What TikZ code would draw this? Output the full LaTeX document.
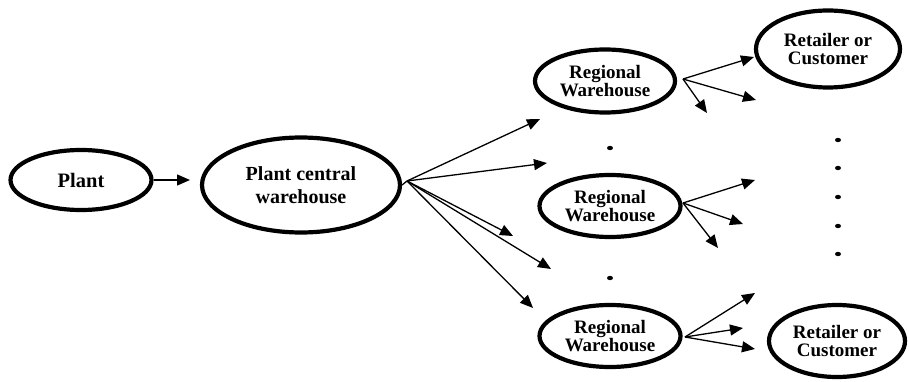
\documentclass[tikz,border=0pt]{standalone}
\usepackage{fontspec}
\setmainfont{Liberation Serif}
\usetikzlibrary{shapes.geometric,arrows.meta}
\begin{document}
\begin{tikzpicture}[x=1pt,y=-1pt,
  oval/.style={draw, ellipse, line width=4.2pt, inner sep=0pt, align=center,
    font=\fontsize{19}{18.5}\selectfont\bfseries},
  flow/.style={line width=1.3pt, -{Triangle[length=13pt,width=11pt]}},
  dotmark/.style={fill=black, draw=none}]
\useasboundingbox (0,0) rectangle (909,382);

% stages of the distribution chain
\node[oval, minimum width=141pt, minimum height=60pt,
  font=\fontsize{20.5}{22}\selectfont\bfseries] (plant) at (81,180) {Plant};
\node[oval, minimum width=198pt, minimum height=95pt,
  font=\fontsize{20}{23}\selectfont\bfseries] (pcw) at (301,185) {Plant central\\warehouse};
\node[oval, minimum width=140pt, minimum height=63pt] (rw1) at (605,81) {Regional\\Warehouse};
\node[oval, minimum width=141pt, minimum height=62pt] (rw2) at (610,206) {Regional\\Warehouse};
\node[oval, minimum width=141pt, minimum height=62pt] (rw3) at (610,336) {Regional\\Warehouse};
\node[oval, minimum width=144pt, minimum height=77pt] (rc1) at (828,49) {Retailer or\\Customer};
\node[oval, minimum width=136pt, minimum height=72pt] (rc2) at (837,341) {Retailer or\\Customer};

% plant to central warehouse
\draw[flow] (plant.east) -- (190,180);

% central warehouse fan-out
\coordinate (hub) at (407,181);
\coordinate (h1) at (540,119);
\coordinate (h2) at (547,163);
\coordinate (h3) at (513,236);
\coordinate (h4) at (551,269);
\coordinate (h5) at (533,308);
\draw[line width=1.3pt] (pcw.east) -- (hub);
\foreach \t in {h1,h2,h3,h4,h5} \draw[flow] (hub) -- (\t);

% regional warehouse 1
\coordinate (s1) at (683,79);
\coordinate (a1) at (754,57);
\coordinate (a2) at (756,100);
\coordinate (a3) at (707,113);
\foreach \t in {a1,a2,a3} \draw[flow] (s1) -- (\t);

% regional warehouse 2
\coordinate (s2) at (683,203);
\coordinate (b1) at (755,180);
\coordinate (b2) at (743,224);
\coordinate (b3) at (718,248);
\foreach \t in {b1,b2,b3} \draw[flow] (s2) -- (\t);

% regional warehouse 3
\coordinate (s3) at (685,337);
\coordinate (c1) at (755,293);
\coordinate (c2) at (743,328);
\coordinate (c3) at (755,349);
\foreach \t in {c1,c2,c3} \draw[flow] (s3) -- (\t);

% ellipsis dots
\foreach \p in {(610,148),(610,278),(838,140),(838,168),(838,197),(838,226),(838,254)}
  \fill[dotmark] \p ellipse (3pt and 2.2pt);
\end{tikzpicture}
\end{document}
